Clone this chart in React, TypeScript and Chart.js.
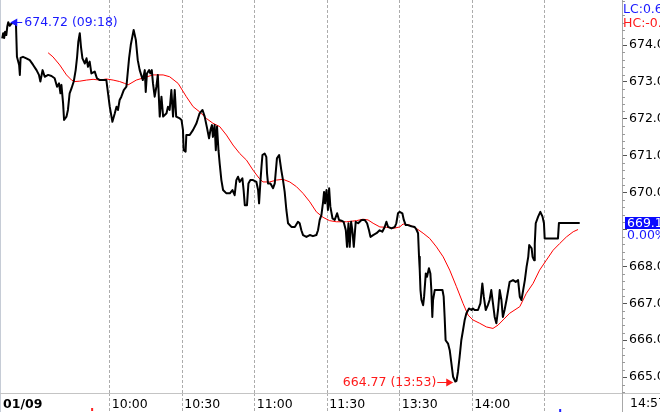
import React, { useEffect, useRef } from "react";
import { Chart, registerables } from "chart.js";

Chart.register(...registerables);

const FONT = "'DejaVu Sans', Verdana, sans-serif";
const FONT_SIZE = 12.5;

// session minutes since 09:15 open (lunch break 11:30-13:00 removed)
const priceMinutes = [
  0.5, 0.9, 1.3, 1.7, 2.2, 2.6, 3, 3.6, 4.3, 5.2, 6.2, 6.6, 7.5, 7.8, 8.1, 9.1, 10.5, 11.9, 13.3, 14.7,
  15.7, 16.3, 17.2, 18.1, 19.5, 20.9, 22.2, 23.2, 24, 24.6, 25, 25.7, 26.1, 27.1, 27.7, 28.4, 29.2, 30.1, 30.9, 31.5,
  32, 32.6, 33.1, 33.7, 34.7, 35.4, 36, 36.7, 37.4, 38.8, 39.7, 40.9, 42.2, 43.6, 44.3, 45, 46.1, 47.1, 47.8, 48.4,
  49.1, 49.8, 50.8, 51.9, 53, 53.7, 54.9, 55.8, 56.6, 57.4, 58.7, 59.5, 59.9, 60.4, 61.3, 61.8, 62.4, 62.9, 63.6, 64.3,
  64.9, 65.7, 66.4, 67.1, 68.5, 69.1, 69.8, 70.5, 71.2, 71.9, 72.5, 74, 74.7, 75.3, 75.6, 76.4, 76.7, 78.1, 79.5, 80.9,
  82.2, 83.4, 84.3, 85.3, 86.1, 86.7, 87.3, 87.7, 88.4, 88.9, 89.4, 90, 90.5, 91.2, 91.9, 93.3, 94.7, 95.8, 96.7, 97.4,
  98.1, 98.8, 99.9, 100.4, 100.9, 101.8, 102.4, 103.2, 104.3, 105.7, 106.4, 106.8, 107.4, 107.8, 108.2, 109.1, 109.8, 110.1, 110.5, 111.5,
  112.6, 113.3, 114.2, 115.1, 116, 116.7, 117.4, 118.1, 118.8, 120.2, 121.6, 122.9, 123.6, 124.3, 125, 126.4, 127.8, 129.1, 130.5, 131.2,
  131.9, 132.6, 133.3, 133.7, 134.1, 134.7, 135.3, 135.8, 136.3, 137.2, 138.1, 139.1, 139.9, 140.9, 141.8, 142.7, 143.2, 143.8, 144.3, 144.9,
  145.4, 146, 146.8, 147.8, 149.2, 150.5, 151.5, 152.3, 152.9, 154, 155.4, 156.7, 157.8, 158.8, 159.5, 160.2, 161.6, 163, 163.6, 164.3,
  165, 166.1, 166.7, 167.5, 168.4, 169.8, 171.2, 171.9, 172.6, 173, 173.3, 173.6, 174, 174.7, 175.1, 175.8, 176.3, 177.1, 177.7, 178.1,
  178.5, 178.8, 179.5, 181.6, 182.7, 183.2, 183.6, 184, 185, 185.7, 186.4, 187.1, 188, 188.5, 189.1, 189.8, 190.5, 191.2, 191.9, 192.6,
  193.7, 194.7, 195.3, 196, 197.4, 198.4, 199.2, 199.8, 200.6, 201.5, 202.2, 202.9, 203.6, 204.3, 205, 205.7, 206.4, 207.1, 207.7, 208.4,
  209.2, 210.5, 211.9, 213, 214, 214.7, 215.4, 216.1, 216.8, 217.5, 218.2, 218.6, 219.6, 220, 220.6, 220.9, 221.3, 222.3, 223.2, 224.1,
  224.7, 225, 226.4, 230.5, 230.9, 239.5,
];
const priceValues = [
  674.18, 674.32, 674.19, 674.36, 674.27, 674.5, 674.62, 674.52, 674.58, 674.6, 674.56, 673.68, 673.46, 673.19, 673.65, 673.68, 673.64, 673.59, 673.46, 673.32,
  673.19, 673.01, 673.32, 673.14, 673.19, 673.16, 673.1, 672.87, 672.96, 672.69, 672.92, 672.42, 671.97, 672.06, 672.24, 672.69, 672.83, 673.01, 673.32, 673.68,
  674.09, 674.32, 673.95, 673.64, 673.5, 673.64, 673.41, 673.55, 673.23, 673.28, 673.1, 673.05, 673.05, 673.05, 672.69, 672.33, 671.92, 672.15, 672.33, 672.24,
  672.51, 672.6, 672.78, 672.87, 673.64, 674.0, 674.41, 674.14, 673.59, 673.32, 673.05, 673.32, 672.73, 673.23, 673.32, 673.23, 673.32, 672.96, 672.6, 672.87,
  673.19, 672.06, 672.6, 672.06, 672.15, 672.33, 672.24, 672.78, 672.06, 672.78, 672.06, 672.01, 671.97, 671.7, 671.15, 671.11, 671.56, 671.56, 671.7, 671.88,
  672.15, 672.24, 672.06, 671.74, 671.47, 671.7, 671.83, 671.51, 671.83, 671.15, 671.79, 671.15, 670.79, 670.34, 670.07, 669.98, 669.98, 670.07, 669.93, 670.34,
  670.43, 670.29, 670.39, 670.07, 669.66, 669.66, 670.25, 670.34, 670.34, 670.29, 670.07, 669.71, 670.34, 670.7, 671.02, 671.06, 670.97, 670.52, 670.25, 670.25,
  670.12, 670.25, 670.93, 671.02, 670.61, 670.34, 670.02, 669.53, 669.17, 669.07, 669.07, 669.21, 669.17, 668.98, 668.85, 668.8, 668.85, 668.82, 668.85, 668.98,
  669.26, 669.39, 669.75, 670.02, 669.71, 670.07, 669.53, 670.12, 669.62, 669.3, 669.26, 669.44, 669.26, 669.24, 669.21, 668.98, 668.53, 669.17, 668.53, 669.21,
  668.98, 668.53, 669.21, 669.17, 669.26, 669.26, 669.17, 668.98, 668.8, 668.85, 668.9, 668.98, 668.94, 669.07, 669.21, 669.07, 669.03, 669.07, 669.17, 669.44,
  669.48, 669.44, 669.26, 669.12, 669.12, 669.09, 669.07, 669.0, 668.9, 668.26, 667.9, 667.36, 667.09, 666.95, 667.18, 667.81, 667.72, 667.95, 667.81, 667.36,
  666.63, 667.09, 667.36, 667.36, 667.36, 667.18, 666.63, 666.0, 665.91, 665.73, 665.37, 665.01, 664.88, 664.9, 665.14, 665.55, 666.0, 666.27, 666.55, 666.73,
  666.86, 666.82, 666.86, 666.82, 666.82, 667.0, 667.54, 667.18, 666.82, 666.95, 667.09, 667.36, 667.0, 666.63, 666.46, 666.82, 667.36, 667.09, 666.63, 666.82,
  667.09, 667.58, 667.63, 667.58, 667.63, 667.18, 667.09, 667.36, 667.63, 667.99, 668.26, 668.58, 668.49, 668.26, 668.17, 668.62, 669.17, 669.35, 669.48, 669.35,
  669.17, 668.76, 668.76, 668.76, 669.18, 669.18,
];

const maMinutes = [
  19.5, 21.5, 24.3, 27.1, 29.2, 30.5, 32.6, 35.4, 38.1, 40.9, 43.6, 46.4, 49.1, 51.2, 52.6, 56, 59.5, 62.9, 67.1, 69.8,
  73.3, 76.7, 79.5, 82.2, 85, 87.7, 90.5, 93.3, 96, 98.8, 101.6, 104.3, 106.8, 108.4, 111.2, 114, 116.7, 119.5, 122.3, 125,
  127.8, 130.5, 133.3, 136, 138.8, 143, 147.1, 149.8, 151.9, 154, 156.8, 159.5, 162.3, 165, 166.4, 169.2, 171.9, 174.7, 177.4, 180.2,
  183, 185.7, 188.5, 191.2, 193.3, 195.3, 198.1, 200.9, 203.6, 205.7, 207.8, 210.5, 214.7, 217.4, 220.2, 222.9, 225.7, 228.5, 231.2, 234,
  236.8, 238.8,
];
const maValues = [
  673.79, 673.68, 673.46, 673.19, 673.05, 673.01, 673.02, 673.05, 673.07, 673.05, 673.08, 673.05, 673.01, 672.96, 672.92, 673.05, 673.12, 673.19, 673.19, 673.14,
  672.96, 672.6, 672.33, 672.19, 672.01, 671.88, 671.79, 671.56, 671.29, 671.06, 670.88, 670.61, 670.39, 670.29, 670.29, 670.34, 670.36, 670.29, 670.16, 669.98,
  669.75, 669.48, 669.33, 669.24, 669.21, 669.21, 669.24, 669.28, 669.26, 669.17, 669.07, 669.06, 669.03, 669.07, 669.15, 669.12, 669.03, 668.9, 668.76, 668.53,
  668.26, 667.9, 667.45, 667.0, 666.68, 666.55, 666.46, 666.36, 666.32, 666.41, 666.55, 666.73, 666.91, 667.27, 667.54, 667.9, 668.17, 668.44, 668.62, 668.8,
  668.94, 669.0,
];

const xTickMinutes = [0, 45, 75, 105, 135, 165, 195, 225];
const xTickLabels = ["01/09", "10:00", "10:30", "11:00", "11:30", "13:30", "14:00", ""];
const yTickValues = [665, 666, 667, 668, 669, 670, 671, 672, 673, 674];

const dayHigh = 674.72;
const dayHighTime = "09:18";
const dayLow = 664.77;
const dayLowTime = "13:53";
const lastChangePct = 0.0;
const lastTimeLabel = "14:57";

const X_MIN = 0;
const X_MAX = 257;
const Y_MIN = 664.57;
const Y_MAX = 675.22;

function drawArrow(ctx: CanvasRenderingContext2D, tailX: number, tipX: number, y: number, color: string) {
  const dir = Math.sign(tipX - tailX);
  ctx.strokeStyle = color;
  ctx.fillStyle = color;
  ctx.lineWidth = 1;
  ctx.beginPath();
  ctx.moveTo(tailX, y + 0.5);
  ctx.lineTo(tipX - dir * 3, y + 0.5);
  ctx.stroke();
  ctx.beginPath();
  ctx.moveTo(tipX, y + 0.5);
  ctx.lineTo(tipX - dir * 7, y - 3.5);
  ctx.lineTo(tipX - dir * 7, y + 4.5);
  ctx.closePath();
  ctx.fill();
}

const overlayPlugin = {
  id: "overlay",
  beforeDraw(chart: any) {
    const { ctx, width, height } = chart;
    ctx.save();
    ctx.fillStyle = "#ffffff";
    ctx.fillRect(0, 0, width, height);
    ctx.restore();
  },
  afterDraw(chart: any) {
    const { ctx, width, height, chartArea } = chart;
    const xs = chart.scales.x;
    const ys = chart.scales.y;
    const font = `${FONT_SIZE}px ${FONT}`;
    ctx.save();

    // frame lines
    ctx.lineWidth = 1;
    ctx.strokeStyle = "#c6ccd6";
    ctx.beginPath();
    ctx.moveTo(0.5, 0);
    ctx.lineTo(0.5, height);
    ctx.stroke();
    ctx.strokeStyle = "#c4c4c4";
    ctx.beginPath();
    ctx.moveTo(0, Math.round(chartArea.bottom) + 0.5);
    ctx.lineTo(width, Math.round(chartArea.bottom) + 0.5);
    ctx.stroke();
    ctx.strokeStyle = "#a8a8a8";
    ctx.beginPath();
    ctx.moveTo(Math.round(chartArea.right) + 0.5, 0);
    ctx.lineTo(Math.round(chartArea.right) + 0.5, height);
    ctx.stroke();

    // minor ticks on the value axis
    ctx.strokeStyle = "#9a9a9a";
    for (let i = Math.ceil(Y_MIN * 5); i <= Math.floor(Y_MAX * 5); i++) {
      if (i % 5 === 0) continue;
      const py = Math.round(ys.getPixelForValue(i / 5)) + 0.5;
      ctx.beginPath();
      ctx.moveTo(chartArea.right, py);
      ctx.lineTo(chartArea.right + 3, py);
      ctx.stroke();
    }

    ctx.font = font;
    ctx.textBaseline = "middle";

    // high annotation at highest point of the line
    let hi = 0;
    let lo = 0;
    priceValues.forEach((v, i) => {
      if (v > priceValues[hi]) hi = i;
      if (v < priceValues[lo]) lo = i;
    });
    const hx = xs.getPixelForValue(priceMinutes[hi]);
    const hy = ys.getPixelForValue(priceValues[hi]);
    drawArrow(ctx, hx + 14, hx + 2, Math.round(hy), "#1a1aff");
    ctx.fillStyle = "#1a1aff";
    ctx.textAlign = "left";
    ctx.fillText(`${dayHigh.toFixed(2)} (${dayHighTime})`, hx + 16, hy + 1);

    // low annotation
    const lx = xs.getPixelForValue(priceMinutes[lo]);
    const ly = ys.getPixelForValue(priceValues[lo]);
    drawArrow(ctx, lx - 18, lx - 2, Math.round(ly), "#ff1a1a");
    ctx.fillStyle = "#ff1a1a";
    ctx.textAlign = "right";
    ctx.fillText(`${dayLow.toFixed(2)} (${dayLowTime})`, lx - 19, ly + 1);

    // top-right stats
    const last = priceValues[priceValues.length - 1];
    const lc = ((last - dayLow) / dayLow) * 100;
    const hc = ((last - dayHigh) / dayHigh) * 100;
    ctx.textAlign = "left";
    ctx.fillStyle = "#1a1aff";
    ctx.fillText(`LC:${lc.toFixed(2)}%`, chartArea.right + 1, 10);
    ctx.fillStyle = "#ff1a1a";
    ctx.fillText(`HC:${hc.toFixed(2)}%`, chartArea.right + 1, 24);

    // last price box
    const lyLast = ys.getPixelForValue(last);
    ctx.fillStyle = "#0a0aff";
    ctx.fillRect(chartArea.right + 3, Math.round(lyLast) - 6, width - chartArea.right, 12);
    ctx.fillStyle = "#ffffff";
    ctx.fillText(last.toFixed(2), chartArea.right + 5, lyLast + 0.5);
    ctx.fillStyle = "#ffffff";
    ctx.fillRect(chartArea.right + 6, Math.round(lyLast) + 6, width - chartArea.right, 13);
    ctx.fillStyle = "#1a1aff";
    ctx.fillText(`${lastChangePct.toFixed(2)}%`, chartArea.right + 5, lyLast + 13);

    // bottom-right time
    ctx.fillStyle = "#000000";
    ctx.fillText(lastTimeLabel, chartArea.right + 8, 404);

    // small event markers on the time axis
    ctx.fillStyle = "#ff2020";
    ctx.fillRect(xs.getPixelForValue(37.3), 408, 2, 3);
    ctx.fillStyle = "#2020ff";
    ctx.fillRect(xs.getPixelForValue(231), 409, 2, 3);

    ctx.restore();
  },
};

export default function App() {
  const canvasRef = useRef<HTMLCanvasElement | null>(null);

  useEffect(() => {
    const canvas = canvasRef.current;
    if (!canvas) return;
    const chart = new Chart(canvas, {
      type: "line",
      data: {
        datasets: [
          {
            label: "Price",
            data: priceMinutes.map((m, i) => ({ x: m, y: priceValues[i] })),
            borderColor: "#000000",
            borderWidth: 2,
            pointRadius: 0,
            tension: 0,
            borderJoinStyle: "round",
            fill: false,
          },
          {
            label: "MA",
            data: maMinutes.map((m, i) => ({ x: m, y: maValues[i] })),
            borderColor: "#ff0000",
            borderWidth: 1,
            pointRadius: 0,
            tension: 0,
            fill: false,
          },
        ],
      },
      options: {
        responsive: false,
        animation: false,
        devicePixelRatio: 1,
        layout: { padding: { left: 1, right: 0, top: 0, bottom: 0 } },
        plugins: {
          legend: { display: false },
          tooltip: { enabled: false },
          title: { display: false },
        },
        scales: {
          x: {
            type: "linear",
            min: X_MIN,
            max: X_MAX,
            afterBuildTicks: (scale: any) => {
              scale.ticks = xTickMinutes.map((v) => ({ value: v }));
            },
            afterFit: (scale: any) => {
              scale.height = 19;
              scale.paddingLeft = 0;
              scale.paddingRight = 0;
            },
            ticks: {
              autoSkip: false,
              maxRotation: 0,
              minRotation: 0,
              align: "start",
              labelOffset: 2,
              padding: -15,
              color: "#000000",
              font: (ctx: any) => ({
                family: FONT,
                size: FONT_SIZE,
                weight: ctx.index === 0 ? "bold" : "normal",
              }),
              callback: (value: any) => {
                const i = xTickMinutes.indexOf(Number(value));
                return i >= 0 ? xTickLabels[i] : "";
              },
            },
            grid: {
              display: true,
              drawOnChartArea: true,
              drawTicks: true,
              tickLength: 19,
              lineWidth: 1,
              color: (ctx: any) => (ctx.tick && ctx.tick.value === 0 ? "rgba(0,0,0,0)" : "#acacac"),
              tickColor: (ctx: any) => (ctx.tick && ctx.tick.value === 0 ? "rgba(0,0,0,0)" : "#acacac"),
              tickBorderDash: [3, 2],
            },
            border: { display: false, dash: [3, 2] },
          },
          y: {
            type: "linear",
            position: "right",
            min: Y_MIN,
            max: Y_MAX,
            afterBuildTicks: (scale: any) => {
              scale.ticks = yTickValues.map((v) => ({ value: v }));
            },
            afterFit: (scale: any) => {
              scale.width = 38;
              scale.paddingTop = 0;
              scale.paddingBottom = 0;
            },
            ticks: {
              padding: 2,
              color: "#000000",
              font: { family: FONT, size: FONT_SIZE },
              callback: (value: any) => Number(value).toFixed(1),
            },
            grid: {
              display: true,
              drawOnChartArea: false,
              drawTicks: true,
              tickLength: 5,
              tickColor: "#555555",
            },
            border: { display: false },
          },
        },
      },
      plugins: [overlayPlugin],
    } as any);
    return () => chart.destroy();
  }, []);

  return (
    <div style={{ position: "absolute", left: 0, top: 0, width: 660, height: 412, overflow: "hidden" }}>
      <canvas ref={canvasRef} width={660} height={412} style={{ display: "block" }} />
    </div>
  );
}
